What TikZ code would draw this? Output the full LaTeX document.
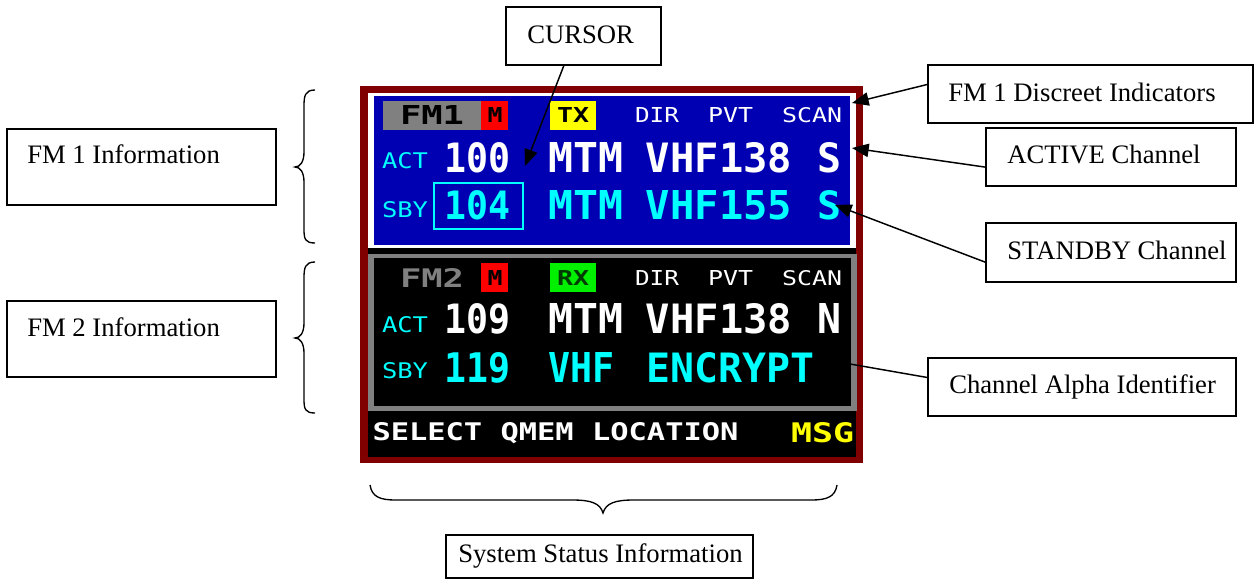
\documentclass[tikz,border=0pt]{standalone}
\usepackage{fontspec}
\setmainfont{Liberation Serif}
\newfontfamily\dspfont{DejaVu Sans Mono}
\usetikzlibrary{arrows.meta,calc,fit}
\definecolor{framered}{RGB}{128,0,0}
\definecolor{panelblue}{RGB}{0,0,178}
\definecolor{dcyan}{RGB}{0,255,255}
\definecolor{dgrey}{RGB}{128,128,128}
\definecolor{dyellow}{RGB}{255,255,0}
\definecolor{dred}{RGB}{255,0,0}
\definecolor{dgreen}{RGB}{0,240,0}
\definecolor{rxtext}{RGB}{0,60,0}
\newlength\dspw \newlength\dsph
\newcommand\dspb[3]{\dspw=#1\dimexpr0.75pt\relax\dsph=#2\dimexpr0.75pt\relax\resizebox{\dspw}{\dsph}{\dspfont\bfseries #3}}
\newcommand\dspr[3]{\dspw=#1\dimexpr0.75pt\relax\dsph=#2\dimexpr0.75pt\relax\resizebox{\dspw}{\dsph}{\dspfont #3}}
\tikzset{
  ann/.style={draw, line width=1.1pt, rectangle, inner sep=0pt},
  lbl/.style={anchor=base west, inner sep=0pt, font=\fontsize{20}{24}\selectfont},
  dl/.style={anchor=base, inner sep=0pt},
  conn/.style={line width=1.1pt},
  arr/.style={conn, -{Triangle[length=12.5pt,width=10pt]}},
  bracepath/.style={line width=1pt},
}
\begin{document}
\begin{tikzpicture}[x=0.75pt,y=-0.75pt]
\useasboundingbox (0,0) rectangle (1255,581);
% ---- display frame ----
\fill[framered] (360,86) rectangle (863,463);
\fill[white] (368,93) rectangle (856,248);
\fill[panelblue] (374,96) rectangle (850,245);
\fill[black] (368,248) rectangle (856,457);
\fill[dgrey] (368,254) rectangle (857,411);
\fill[black] (374,258) rectangle (851,406);
% ---- FM1 panel ----
\fill[dgrey] (383,101) rectangle (481,130);
\fill[dred] (481,101) rectangle (508,130);
\fill[dyellow] (550,101) rectangle (596,130);
\node[dl, text=black] (fm1t) at (432,125) {\dspb{64}{19}{FM1}};
\node[dl, text=black] (m1) at (495,123) {\dspb{15}{15}{M}};
\node[dl, text=black] (tx) at (573,123) {\dspb{32}{15}{TX}};
\node[dl, text=white] (dir1) at (657,123) {\dspr{44}{15}{DIR}};
\node[dl, text=white] (pvt1) at (730.5,123) {\dspr{45}{15}{PVT}};
\node[dl, text=white] (scan1) at (812,123) {\dspr{60}{15}{SCAN}};
\node[dl, text=dcyan] (act1) at (405,169) {\dspr{46}{16}{ACT}};
\node[dl, text=white] (n100) at (477,172) {\dspb{66}{30}{100}};
\node[dl, text=white] (mtm1) at (585.5,172) {\dspb{75}{30}{MTM}};
\node[dl, text=white] (vhf1) at (719,172) {\dspb{146}{30}{VHF138}};
\node[dl, text=white] (s1) at (829,172) {\dspb{24}{30}{S}};
\node[dl, text=dcyan] (sby1) at (405,217) {\dspr{46}{16}{SBY}};
\node[dl, text=dcyan] (n104) at (477.5,219) {\dspb{66}{29}{104}};
\node[dl, text=dcyan] (mtm2) at (585.5,219) {\dspb{75}{29}{MTM}};
\node[dl, text=dcyan] (vhf2) at (719,219) {\dspb{146}{29}{VHF155}};
\node[dl, text=dcyan] (s2) at (829,219) {\dspb{24}{29}{S}};
\draw[dcyan, line width=1.2pt] (434,183) rectangle (523,229);
% ---- FM2 panel ----
\fill[dred] (481,263) rectangle (508,292);
\fill[dgreen] (550,263) rectangle (596,292);
\node[dl, text=dgrey] (fm2t) at (432,287) {\dspb{64}{19}{FM2}};
\node[dl, text=black] (m2) at (495,285) {\dspb{15}{15}{M}};
\node[dl, text=rxtext] (rx) at (573,285) {\dspb{32}{15}{RX}};
\node[dl, text=white] (dir2) at (657,285) {\dspr{44}{15}{DIR}};
\node[dl, text=white] (pvt2) at (730.5,285) {\dspr{45}{15}{PVT}};
\node[dl, text=white] (scan2) at (812,285) {\dspr{60}{15}{SCAN}};
\node[dl, text=dcyan] (act2) at (405,332) {\dspr{46}{16}{ACT}};
\node[dl, text=white] (n109) at (477,333) {\dspb{66}{30}{109}};
\node[dl, text=white] (mtm3) at (585.5,333) {\dspb{75}{30}{MTM}};
\node[dl, text=white] (vhf3) at (719,333) {\dspb{146}{30}{VHF138}};
\node[dl, text=white] (nn) at (829.5,333) {\dspb{24}{30}{N}};
\node[dl, text=dcyan] (sby2) at (405,378) {\dspr{46}{16}{SBY}};
\node[dl, text=dcyan] (n119) at (477.5,382) {\dspb{66}{30}{119}};
\node[dl, text=dcyan] (vhf4) at (581.5,382) {\dspb{66}{30}{VHF}};
\node[dl, text=dcyan] (encr) at (730,382) {\dspb{168}{30}{ENCRYPT}};
% ---- status line ----
\node[dl, text=white] (sel) at (555.5,440) {\dspb{366}{18}{SELECT QMEM LOCATION}};
\node[dl, text=dyellow] (msg) at (822.5,442) {\dspb{63}{20}{MSG}};
% ---- braces ----
\draw[bracepath] (315,90) .. controls (305,90) and (304,96) .. (304,106) -- (304,152) .. controls (304,162) and (300,167) .. (295,167) .. controls (300,167) and (304,172) .. (304,182) -- (304,229) .. controls (304,239) and (305,243) .. (315,243);
\draw[bracepath] (315,262) .. controls (305,262) and (304,268) .. (304,278) -- (304,323) .. controls (304,333) and (300,338) .. (295,338) .. controls (300,338) and (304,343) .. (304,353) -- (304,399) .. controls (304,409) and (305,413) .. (315,413);
\draw[bracepath] (370,485) .. controls (372,497) and (380,500) .. (396,500) -- (572,500) .. controls (591,500) and (600,503) .. (603,513) .. controls (606,503) and (615,500) .. (634,500) -- (811,500) .. controls (827,500) and (835,497) .. (837,485);
% ---- annotation boxes ----
\node[ann, fit={(506,7) (661,65)}] (bcursor) {};
\node[lbl] (tcursor) at (527,44) {CURSOR};
\node[ann, fit={(928,65) (1253,123)}] (bdisc) {};
\node[lbl] (tdisc) at (948,101.5) {FM 1 Discreet Indicators};
\node[ann, fit={(986,128) (1236,186)}] (bactive) {};
\node[lbl] (tactive) at (1007,164) {ACTIVE Channel};
\node[ann, fit={(986,223) (1236,282)}] (bstandby) {};
\node[lbl] (tstandby) at (1007,259) {STANDBY Channel};
\node[ann, fit={(928,358) (1236,416)}] (balpha) {};
\node[lbl] (talpha) at (949,393) {Channel Alpha Identifier};
\node[ann, fit={(7,129) (276,205)}] (bfm1) {};
\node[lbl] (tfm1) at (27,164) {FM 1 Information};
\node[ann, fit={(7,301) (276,377)}] (bfm2) {};
\node[lbl] (tfm2) at (27,336) {FM 2 Information};
\node[ann, fit={(446,535) (753,578)}] (bstatus) {};
\node[lbl] (tstatus) at (458,562) {System Status Information};
% ---- connectors ----
\coordinate (pcursor) at (525,166);
\coordinate (pdisc) at (852,103);
\coordinate (pactive) at (852,148);
\coordinate (pstandby) at (835,205);
\coordinate (palpha) at (850,364);
\draw[arr] ($(bcursor.south west)!0.374!(bcursor.south east)$) -- (pcursor);
\draw[arr] ($(bdisc.north west)!0.34!(bdisc.south west)$) -- (pdisc);
\draw[arr] ($(bactive.north west)!0.67!(bactive.south west)$) -- (pactive);
\draw[arr] ($(bstandby.north west)!0.66!(bstandby.south west)$) -- (pstandby);
\draw[conn] ($(balpha.north west)!0.34!(balpha.south west)$) -- (palpha);
\end{tikzpicture}
\end{document}
